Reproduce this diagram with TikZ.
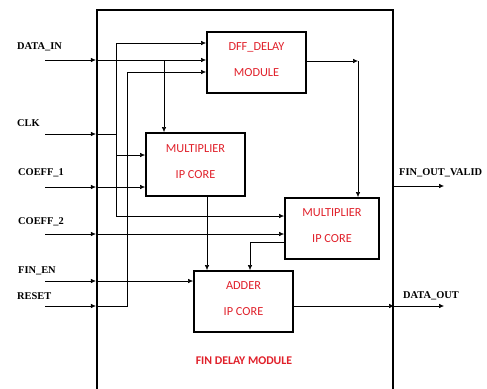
\documentclass[tikz,border=0pt]{standalone}
\usepackage{fontspec}
\setmainfont{Liberation Serif}
\newfontfamily\boxfont{Carlito}
\usetikzlibrary{arrows.meta, positioning, calc}
\definecolor{ink}{HTML}{000000}
\definecolor{redtxt}{HTML}{E0202A}
\tikzset{
  outer/.style={draw=ink, line width=2.2pt, minimum width=296, minimum height=390,
                inner sep=0pt},
  blk/.style={draw=ink, line width=1.8pt, align=center, inner sep=0pt, text depth=6pt,
              font=\boxfont\fontsize{12.3}{14}\selectfont, text=redtxt},
  pin/.style={font=\bfseries\fontsize{10.4}{12}\selectfont, text=ink, anchor=west, inner sep=0pt},
  wire/.style={draw=ink, line width=0.6pt},
  fl/.style={-{Latex[length=5pt, width=4.5pt]}, line width=0.6pt, draw=ink},
}
\begin{document}
\begin{tikzpicture}[x=1pt, y=-1pt]
  \useasboundingbox (0,0) rectangle (487,388);
  % module frame (open at the bottom edge of the page)
  \node[outer] (fdm) at (245,205) {};
  \node[font=\boxfont\bfseries\fontsize{11.8}{13}\selectfont, text=redtxt] (title) at (244,361) {FIN DELAY MODULE};

  % blocks
  \node[blk, minimum width=99, minimum height=61] (dff) at (256.5,62.5)
    {DFF\_DELAY\\[12pt]MODULE};
  \node[blk, minimum width=99, minimum height=63] (mul1) at (195.5,164.5)
    {MULTIPLIER\\[12pt]IP CORE};
  \node[blk, minimum width=94, minimum height=61] (mul2) at (332,228.5)
    {MULTIPLIER\\[12pt]IP CORE};
  \node[blk, minimum width=99, minimum height=61] (add) at (243.5,301.5)
    {ADDER\\[12pt]IP CORE};

  % pins
  \node[pin] (ldin) at (17,47) {DATA\_IN};
  \node[pin] (lclk) at (17,123) {CLK};
  \node[pin] (lc1) at (18,173) {COEFF\_1};
  \node[pin] (lc2) at (18,222) {COEFF\_2};
  \node[pin] (len) at (18,271) {FIN\_EN};
  \node[pin] (lrst) at (17,296) {RESET};
  \node[pin] (lvalid) at (399,173) {FIN\_OUT\_VALID};
  \node[pin] (lout) at (403,296) {DATA\_OUT};

  \coordinate (din) at (45,60);
  \coordinate (clk) at (45,134);
  \coordinate (c1) at (45,187);
  \coordinate (c2) at (45,234);
  \coordinate (en) at (45,281);
  \coordinate (rst) at (45,306);
  \coordinate (clkbus) at (116,134);
  \coordinate (rstbus) at (127,306);
  \coordinate (dffo) at (358,61);
  \coordinate (m2o) at (250,242);
  \coordinate (valid) at (444,186);
  \coordinate (dout) at (444,306);

  % inputs through the frame
  \foreach \p in {din, clk, c1, c2, en, rst}
    \draw[fl] (\p) -- (\p -| fdm.west);

  % DATA_IN
  \draw[fl] (din -| fdm.west) -- (din -| dff.west);
  \draw[fl] (din -| mul1.north) ++(-31.5,0) coordinate (dtap) -- (dtap |- mul1.north);
  % CLK bus
  \draw[wire] (clk -| fdm.west) -- (clkbus);
  \draw[wire] ($(clkbus)+(0,-91)$) -- ($(clkbus)+(0,82)$);
  \draw[fl] ($(clkbus)+(0,-91)$) -- ($(dff.west)+(0,-19.5)$);
  \draw[fl] ($(clkbus)+(0,21)$) -- ($(mul1.west)+(0,-9.5)$);
  \draw[fl] ($(clkbus)+(0,82)$) -- ($(mul2.west)+(0,-12.5)$);
  % coefficients and enable
  \draw[fl] (c1 -| fdm.west) -- (c1 -| mul1.west);
  \draw[fl] (c2 -| fdm.west) -- (c2 -| mul2.west);
  \draw[fl] (en -| fdm.west) -- (en -| add.west);
  % RESET
  \draw[wire] (rst -| fdm.west) -- (rstbus) -- ($(rstbus)+(0,-234)$) coordinate (rtop);
  \draw[fl] (rtop) -- (rtop -| dff.west);

  % internal datapath
  \draw[fl] (dff.east |- dffo) -- (dffo);
  \draw[fl] (dffo) -- (dffo |- mul2.north);
  \draw[fl] ($(mul1.south)+(11.5,0)$) -- ($(add.north)+(-36.5,0)$);
  \draw[wire] (m2o -| mul2.west) -- (m2o);
  \draw[fl] (m2o) -- (m2o |- add.north);

  % outputs
  \draw[fl] (add.east |- dout) -- (dout -| fdm.east);
  \draw[fl] (dout -| fdm.east) -- (dout);
  \draw[fl] (valid -| fdm.east) -- (valid);
\end{tikzpicture}
\end{document}
